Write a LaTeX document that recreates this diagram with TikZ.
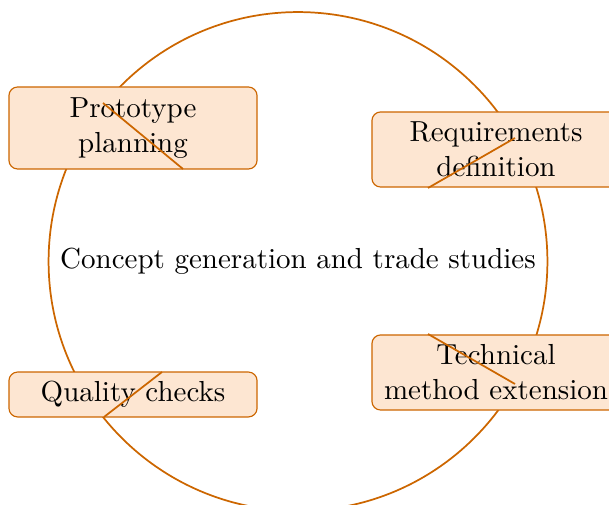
\documentclass[tikz,border=0pt]{standalone}
\definecolor{accent}{RGB}{204,102,0}
\definecolor{boxfill}{RGB}{253,230,210}
\begin{document}
\begin{tikzpicture}[x=0.345pt,y=-0.345pt,
  ring/.style={circle, draw=accent, semithick, inner sep=0pt, minimum size=172.1pt},
  box/.style={draw=accent, thin, fill=boxfill, rounded corners=3pt, align=center, inner sep=0pt, minimum width=85.6pt},
  link/.style={draw=accent, semithick}]
\useasboundingbox (0,0) rectangle (609,505);
\node[ring] (hub) at (298,261.5) {Concept generation and trade studies};
\node[box, minimum height=28.3pt] (proto) at (133,128) {Prototype\\planning};
\node[box, minimum height=25.9pt] (req) at (496,149.5) {Requirements\\definition};
\node[box, minimum height=25.9pt] (tech) at (496,372.5) {Technical\\method extension};
\node[box, minimum height=15.5pt] (qual) at (133,394.5) {Quality checks};
\coordinate (p1) at (103,103);
\coordinate (p2) at (183,169);
\coordinate (r1) at (428,188);
\coordinate (r2) at (515,138);
\coordinate (t1) at (428,334);
\coordinate (t2) at (515,384);
\coordinate (q1) at (162,372);
\coordinate (q2) at (104,417);
\draw[link] (p1) -- (p2);
\draw[link] (r1) -- (r2);
\draw[link] (t1) -- (t2);
\draw[link] (q1) -- (q2);
\end{tikzpicture}
\end{document}
